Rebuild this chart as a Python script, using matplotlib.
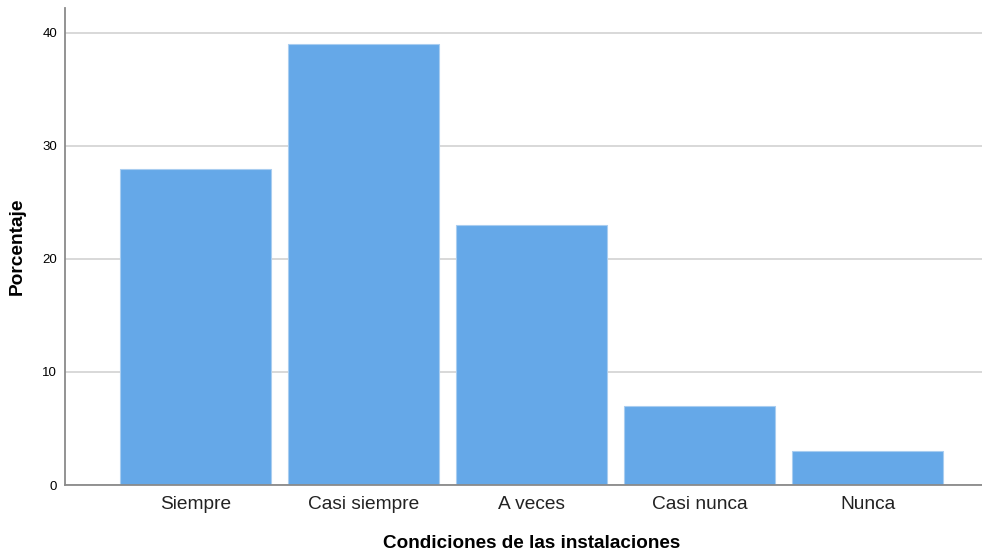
import matplotlib
matplotlib.use("Agg")
import matplotlib.pyplot as plt

categorias = ["Siempre", "Casi siempre", "A veces", "Casi nunca", "Nunca"]
porcentaje = [28, 39, 23, 7, 3]
yticks = [0, 10, 20, 30, 40]

plt.rcParams['font.family'] = ['Liberation Sans', 'DejaVu Sans']

fig = plt.figure(figsize=(9.82, 5.52), dpi=100)
ax = fig.add_axes([65 / 982, 67 / 552, 917 / 982, 477 / 552])

pos = list(range(len(categorias)))
ax.set_axisbelow(True)
ax.yaxis.grid(True, color="#d6d6d6", linewidth=1.3)
ax.bar(pos, porcentaje, width=0.9, color="#65a8e8", edgecolor="#a9cdf0", linewidth=0.8)

ax.set_xlim(-0.777, 4.68)
ax.set_ylim(0, 42.2)
ax.set_xticks(pos)
ax.set_xticklabels(categorias, fontsize=13.8, color="#222222")
ax.set_yticks(yticks)
ax.tick_params(axis="y", labelsize=9.5, length=0, pad=5.8)
ax.tick_params(axis="x", length=0, pad=8)

for s in ["top", "right"]:
    ax.spines[s].set_visible(False)
for s in ["left", "bottom"]:
    ax.spines[s].set_color("#8a8a8a")
    ax.spines[s].set_linewidth(1.3)

# label centred over the bars, not the whole axis
ax.set_xlabel("Condiciones de las instalaciones", fontsize=13.6, fontweight="bold", labelpad=16)
ax.xaxis.label.set_x(0.509)
ax.set_ylabel("Porcentaje", fontsize=13.8, fontweight="bold", labelpad=12)

fig.savefig("out.png", dpi=100)
